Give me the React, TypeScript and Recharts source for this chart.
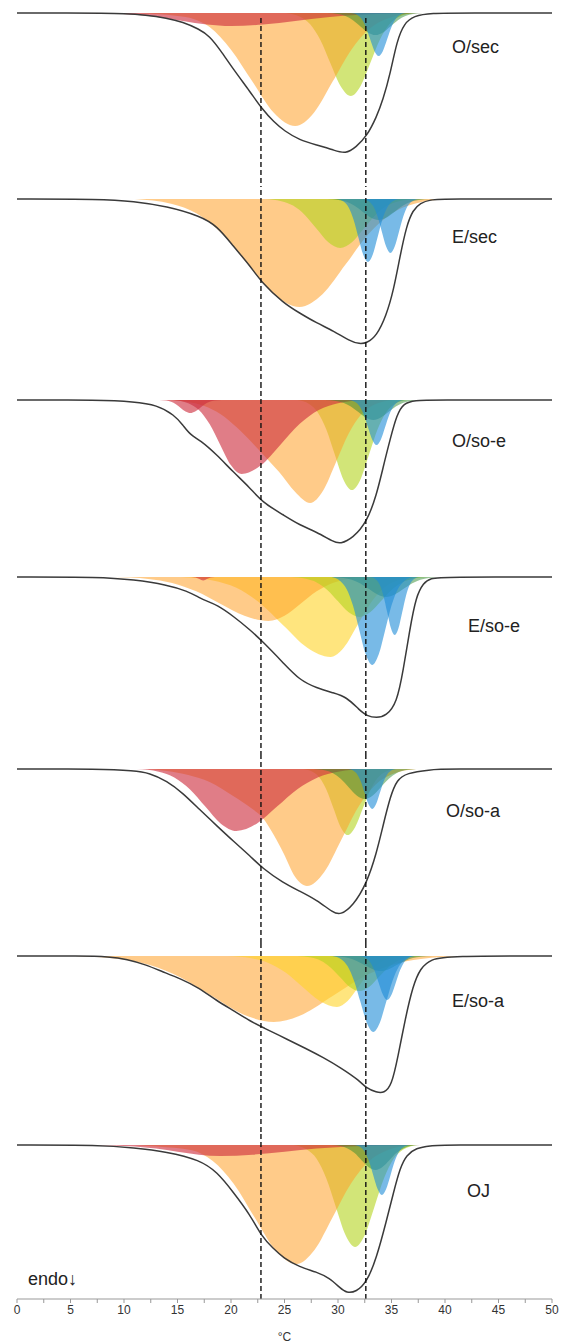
import { ComposedChart, Area, Line, XAxis, YAxis, ReferenceLine } from 'recharts';

type Pt = [number, number];

// temperature axis (°C) and the two dashed guides
const tempTicks = [0, 2.5, 5, 7.5, 10, 12.5, 15, 17.5, 20, 22.5, 25, 27.5, 30, 32.5, 35, 37.5, 40, 42.5, 45, 47.5, 50];
const guideTemps = [22.8, 32.6];

// ---- O/sec ----
const osecCurve: Pt[] = [[0, 0], [5, 0], [8, 0.3], [10, 0.6], [12, 2], [14, 5], [15.5, 9], [17, 16], [18, 23], [19, 37], [20.2, 56], [21.8, 79], [22.9, 96], [24, 109], [25, 118], [26.4, 127], [28, 132], [29.6, 137], [30.7, 141], [31.7, 134], [32.7, 123], [33.6, 104], [34.2, 87], [34.9, 60], [35.5, 28], [36.2, 10], [37.1, 3], [38.6, 0], [42, 0], [50, 0]];
const osecRose: Pt[] = [[5.6, 0], [8.75, 0.6], [11, 1.8], [13.25, 4.2], [15.5, 7.9], [17.75, 11.5], [20, 13], [23, 11.5], [26, 7.9], [29, 4.2], [32, 1.8], [35, 0.6], [38, 0]];
const osecOrange: Pt[] = [[11, 0], [13, 1], [15, 3], [16.5, 6], [18, 14], [20, 36.7], [22, 68.6], [24, 99.7], [26, 113], [27.75, 99.7], [29.5, 68.6], [31.25, 36.7], [33, 15.3], [34.75, 5], [37.2, 0]];
const osecLime: Pt[] = [[25.1, 0], [26.45, 3.7], [27.4, 11.2], [28.35, 27], [29.3, 50.4], [30.25, 73.2], [31.2, 83], [32.1, 73.2], [33, 50.4], [33.9, 27], [34.8, 11.2], [35.7, 3.7], [37, 0]];
const osecGreen: Pt[] = [[29, 0], [30, 1], [30.7, 3], [31.4, 7.2], [32.1, 13.4], [32.8, 19.4], [33.5, 22], [34.2, 19.4], [34.9, 13.4], [35.6, 7.2], [36.3, 3], [37, 1], [38, 0]];
const osecBlue: Pt[] = [[31.2, 0], [31.8, 1.9], [32.2, 5.8], [32.6, 14], [33, 26.1], [33.4, 37.9], [33.8, 43], [34.2, 37.9], [34.6, 26.1], [35, 14], [35.4, 5.8], [35.8, 1.9], [36.4, 0]];

// ---- E/sec ----
const esecCurve: Pt[] = [[0, 0], [7.8, 0], [10.9, 2.3], [14, 7.3], [17.1, 17], [18.7, 27], [20.2, 47], [21.8, 67], [22.9, 84], [24.9, 104], [26.4, 114], [28, 124], [29.6, 132], [31.1, 142], [32, 145], [32.7, 144], [33.6, 137], [34.5, 117], [35.2, 91], [35.8, 57], [36.4, 27], [37, 11], [37.7, 4], [38.6, 0.7], [40, 0], [50, 0]];
const esecOrange: Pt[] = [[11, 0], [14.4, 4.8], [16.8, 14.6], [19.2, 35.1], [21.6, 65.6], [24, 95.3], [26.4, 108], [28.55, 95.3], [30.7, 65.6], [32.85, 35.1], [35, 14.6], [37.15, 4.8], [40.2, 0]];
const esecLime: Pt[] = [[23.2, 0], [24.7, 2.2], [25.8, 6.6], [26.9, 15.9], [28, 29.7], [29.1, 43.2], [30.2, 49], [31.3, 43.2], [32.4, 29.7], [33.5, 15.9], [34.6, 6.6], [35.7, 2.2], [37.2, 0]];
const esecGreen: Pt[] = [[29, 0], [30.05, 0.9], [30.8, 2.8], [31.55, 6.8], [32.3, 12.7], [33.05, 18.5], [33.8, 21], [34.55, 18.5], [35.3, 12.7], [36.05, 6.8], [36.8, 2.8], [37.55, 0.9], [38.6, 0]];
const esecBlueA: Pt[] = [[29.9, 0], [30.55, 2.8], [31, 8.5], [31.45, 20.5], [31.9, 38.2], [32.35, 55.6], [32.8, 63], [33.25, 55.6], [33.7, 38.2], [34.15, 20.5], [34.6, 8.5], [35.05, 2.8], [35.7, 0]];
const esecBlueB: Pt[] = [[32.3, 0], [32.9, 2.4], [33.3, 7.3], [33.7, 17.6], [34.1, 32.8], [34.5, 47.6], [34.9, 54], [35.3, 47.6], [35.7, 32.8], [36.1, 17.6], [36.5, 7.3], [36.9, 2.4], [37.5, 0]];

// ---- O/so-e ----
const osoeCurve: Pt[] = [[0, 0], [7.8, 0], [10.9, 1.7], [13.1, 5], [14.7, 15], [15.5, 25], [16.2, 35], [17.1, 40], [18.7, 55], [20.2, 72], [21.8, 88], [22.9, 102], [24.9, 115], [26.4, 125], [28, 132], [29.6, 142], [30.2, 144], [31.4, 138], [32.7, 122], [33.6, 95], [34.2, 68], [34.9, 38], [35.5, 15], [36.1, 3], [37.3, 0.3], [38.5, 0], [50, 0]];
const osoeRoseS: Pt[] = [[13.3, 0], [13.95, 0.6], [14.4, 1.8], [14.85, 4.2], [15.3, 7.9], [15.75, 11.5], [16.2, 13], [16.65, 11.5], [17.1, 7.9], [17.55, 4.2], [18, 1.8], [18.45, 0.6], [19.1, 0]];
const osoeRoseB: Pt[] = [[14.6, 0], [16, 3.3], [17, 10], [18, 24.1], [19, 44.9], [20, 65.3], [21, 74], [22.8, 65.3], [24.6, 44.9], [26.4, 24.1], [28.2, 10], [30, 3.3], [32.5, 0]];
const osoeOrange: Pt[] = [[14, 0], [16, 2], [17.5, 6], [19, 14], [20.5, 27], [22, 43], [23.3, 58], [24.5, 72], [26, 92], [27.4, 103], [28.6, 90.8], [29.8, 62.5], [31, 33.5], [32.2, 13.9], [33.4, 4.5], [35.1, 0]];
const osoeLime: Pt[] = [[26.2, 0], [27.3, 4], [28.1, 12.2], [28.9, 29.3], [29.7, 54.6], [30.5, 79.4], [31.3, 90], [32.1, 79.4], [32.9, 54.6], [33.7, 29.3], [34.5, 12.2], [35.3, 4], [36.4, 0]];
const osoeGreen: Pt[] = [[28.8, 0], [29.8, 0.9], [30.5, 2.7], [31.2, 6.5], [31.9, 12.1], [32.6, 17.6], [33.3, 20], [34, 17.6], [34.7, 12.1], [35.4, 6.5], [36.1, 2.7], [36.8, 0.9], [37.8, 0]];
const osoeBlue: Pt[] = [[31, 0], [31.6, 2], [32, 6.1], [32.4, 14.6], [32.8, 27.3], [33.2, 39.7], [33.6, 45], [34, 39.7], [34.4, 27.3], [34.8, 14.6], [35.2, 6.1], [35.6, 2], [36.2, 0]];

// ---- E/so-e ----
const esoeCurve: Pt[] = [[0, 0], [7.8, 0], [10.9, 2.7], [14, 7.7], [15.9, 14], [17.1, 21], [17.7, 24], [18.7, 28], [20.2, 39], [21.8, 53], [22.9, 64], [24.9, 86], [26.4, 103], [28, 111], [29.6, 116], [30.8, 120], [32, 133], [32.7, 139], [33.6, 141], [34.5, 139], [35.5, 126], [36.1, 93], [36.7, 53], [37.3, 19], [38, 6], [38.6, 1], [40, 0], [50, 0]];
const esoeRose: Pt[] = [[16.3, 0], [16.7, 0.5], [17.05, 2.1], [17.4, 3.5], [17.75, 2.1], [18.1, 0.5], [18.5, 0]];
const esoeYellow: Pt[] = [[15.3, 0], [18.3, 3.5], [20.5, 10.8], [22.7, 26], [24.9, 48.6], [27.1, 70.6], [29.3, 80], [30.55, 70.6], [31.8, 48.6], [33.05, 26], [34.3, 10.8], [35.55, 3.5], [37.3, 0]];
const esoeOrange: Pt[] = [[9.1, 0], [12.25, 1.9], [14.5, 5.9], [16.75, 14.3], [19, 26.7], [21.25, 38.8], [23.5, 44], [25, 38.8], [26.5, 26.7], [28, 14.3], [29.5, 5.9], [31, 1.9], [33.1, 0]];
const esoeLime: Pt[] = [[25.6, 0], [27, 1.8], [28, 5.4], [29, 13], [30, 24.3], [31, 35.3], [32, 40], [33, 35.3], [34, 24.3], [35, 13], [36, 5.4], [37, 1.8], [38.4, 0]];
const esoeGreen: Pt[] = [[29.4, 0], [30.5, 0.9], [31.3, 2.7], [32.1, 6.5], [32.9, 12.1], [33.7, 17.6], [34.5, 20], [35.3, 17.6], [36.1, 12.1], [36.9, 6.5], [37.7, 2.7], [38.5, 0.9], [39.6, 0]];
const esoeBlueA: Pt[] = [[29.4, 0], [30.2, 3.9], [30.8, 11.9], [31.4, 28.6], [32, 53.4], [32.6, 77.6], [33.2, 88], [33.8, 77.6], [34.4, 53.4], [35, 28.6], [35.6, 11.9], [36.2, 3.9], [37, 0]];
const esoeBlueB: Pt[] = [[33.05, 0], [33.55, 2.6], [33.9, 7.8], [34.25, 18.9], [34.6, 35.2], [34.95, 51.2], [35.3, 58], [35.65, 51.2], [36, 35.2], [36.35, 18.9], [36.7, 7.8], [37.05, 2.6], [37.55, 0]];

// ---- O/so-a ----
const osoaCurve: Pt[] = [[0, 0], [7.8, 0], [10.9, 1.7], [12.4, 4], [14, 12], [15.5, 24], [17.1, 41], [18.7, 57], [20.2, 72], [21.8, 87], [22.9, 99], [24.9, 114], [26.4, 122], [28, 131], [29.6, 144], [30.2, 146], [31.4, 137], [32.7, 114], [33.6, 84], [34.2, 57], [34.9, 27], [35.5, 11], [36.4, 4], [38.6, 0.7], [40, 0], [50, 0]];
const osoaRose: Pt[] = [[11.2, 0], [13.25, 2.7], [14.7, 8.4], [16.15, 20.2], [17.6, 37.6], [19.05, 54.7], [20.5, 62], [22.4, 54.7], [24.3, 37.6], [26.2, 20.2], [28.1, 8.4], [30, 2.7], [32.7, 0]];
const osoaOrange: Pt[] = [[12, 0], [14, 2], [16, 6], [18, 13], [20.2, 27], [22, 40], [22.9, 48], [24, 66], [24.9, 84], [26, 108], [27.1, 117], [28.7, 103.2], [30.3, 71], [31.9, 38], [33.5, 15.8], [35.1, 5.1], [37.3, 0]];
const osoaLime: Pt[] = [[26.75, 0], [27.65, 2.9], [28.3, 8.9], [28.95, 21.5], [29.6, 40.1], [30.25, 58.2], [30.9, 66], [31.6, 58.2], [32.3, 40.1], [33, 21.5], [33.7, 8.9], [34.4, 2.9], [35.4, 0]];
const osoaGreen: Pt[] = [[27.7, 0], [28.75, 1.3], [29.5, 4.1], [30.25, 9.8], [31, 18.2], [31.75, 26.5], [32.5, 30], [33.25, 26.5], [34, 18.2], [34.75, 9.8], [35.5, 4.1], [36.25, 1.3], [37.3, 0]];
const osoaBlue: Pt[] = [[30.95, 0], [31.45, 1.8], [31.8, 5.4], [32.15, 13], [32.5, 24.3], [32.85, 35.3], [33.2, 40], [33.55, 35.3], [33.9, 24.3], [34.25, 13], [34.6, 5.4], [34.95, 1.8], [35.45, 0]];

// ---- E/so-a ----
const esoaCurve: Pt[] = [[0, 0], [6, 0], [8.6, 0.7], [10.3, 3.2], [12, 8.6], [13.6, 15.7], [15.3, 22.9], [17, 31.8], [18.6, 44.3], [20.3, 55], [22, 66.4], [22.9, 71], [25.3, 83.6], [27, 92.5], [28.6, 101.4], [30.3, 112], [32, 124.6], [32.6, 131.8], [33.6, 136.4], [34.3, 137], [35, 130], [35.6, 101], [36.3, 62], [37, 30], [37.7, 12], [38.7, 3.2], [40.3, 0], [50, 0]];
const esoaOrange: Pt[] = [[5.4, 0], [9.5, 2.9], [12.4, 8.9], [15.3, 21.5], [18.2, 40.1], [21.1, 58.2], [24, 66], [26.75, 58.2], [29.5, 40.1], [32.25, 21.5], [35, 8.9], [37.75, 2.9], [41.6, 0]];
const esoaYellow: Pt[] = [[19.7, 0], [21.9, 2.2], [23.5, 6.9], [25.1, 16.6], [26.7, 31], [28.3, 45], [29.9, 51], [30.9, 45], [31.9, 31], [32.9, 16.6], [33.9, 6.9], [34.9, 2.2], [36.3, 0]];
const esoaLime: Pt[] = [[26.2, 0], [27.5, 1.5], [28.4, 4.7], [29.3, 11.4], [30.2, 21.2], [31.1, 30.9], [32, 35], [32.9, 30.9], [33.8, 21.2], [34.7, 11.4], [35.6, 4.7], [36.5, 1.5], [37.8, 0]];
const esoaGreen: Pt[] = [[29.2, 0], [30.25, 0.7], [31, 2], [31.75, 4.9], [32.5, 9.1], [33.25, 13.2], [34, 15], [34.75, 13.2], [35.5, 9.1], [36.25, 4.9], [37, 2], [37.75, 0.7], [38.8, 0]];
const esoaBlueA: Pt[] = [[29.5, 0], [30.3, 3.3], [30.9, 10.3], [31.5, 24.7], [32.1, 46.1], [32.7, 67], [33.3, 76], [33.9, 67], [34.5, 46.1], [35.1, 24.7], [35.7, 10.3], [36.3, 3.3], [37.1, 0]];
const esoaBlueB: Pt[] = [[32, 0], [32.6, 1.9], [33, 5.9], [33.4, 14.3], [33.8, 26.7], [34.2, 38.8], [34.6, 44], [35, 38.8], [35.4, 26.7], [35.8, 14.3], [36.2, 5.9], [36.6, 1.9], [37.2, 0]];

// ---- OJ ----
const ojCurve: Pt[] = [[0, 0], [7.8, 0], [10.9, 2.7], [14, 6.7], [17.1, 15], [18.7, 27], [20.2, 47], [21.8, 70], [22.9, 92], [23.9, 103], [24.9, 113], [26.4, 122], [28, 127], [29.2, 133], [30.2, 143], [30.8, 148], [31.7, 147], [32.7, 137], [33.6, 113], [34.5, 77], [35.2, 47], [35.8, 23], [36.4, 10], [37.3, 3], [38.6, 0.7], [40, 0], [50, 0]];
const ojRose: Pt[] = [[6.2, 0], [9, 0.5], [11, 1.5], [13, 3.6], [15, 6.7], [17, 9.7], [19, 11], [22, 9.7], [25, 6.7], [28, 3.6], [31, 1.5], [34, 0.5], [38, 0]];
const ojOrange: Pt[] = [[11, 0], [13, 1.5], [16.35, 5.2], [18.3, 16.1], [20.25, 38.7], [22.2, 72.2], [24.15, 105], [26.1, 119], [27.8, 105], [29.5, 72.2], [31.2, 38.7], [32.9, 16.1], [34.6, 5.2], [37, 0]];
const ojLime: Pt[] = [[25.8, 0], [27.1, 4.5], [28, 13.8], [28.9, 33.2], [29.8, 61.9], [30.7, 90], [31.6, 102], [32.5, 90], [33.4, 61.9], [34.3, 33.2], [35.2, 13.8], [36.1, 4.5], [37.4, 0]];
const ojGreen: Pt[] = [[29.35, 0], [30.25, 1.1], [30.9, 3.4], [31.55, 8.1], [32.2, 15.2], [32.85, 22], [33.5, 25], [34.15, 22], [34.8, 15.2], [35.45, 8.1], [36.1, 3.4], [36.75, 1.1], [37.65, 0]];
const ojBlue: Pt[] = [[31.5, 0], [32.1, 2.2], [32.5, 6.8], [32.9, 16.3], [33.3, 30.4], [33.7, 44.1], [34.1, 50], [34.5, 44.1], [34.9, 30.4], [35.3, 16.3], [35.7, 6.8], [36.1, 2.2], [36.7, 0]];

const FILL: Record<string, [string, number]> = {
  rose: ['rgb(205,45,62)', 0.62],
  orange: ['rgb(255,160,40)', 0.55],
  yellow: ['rgb(255,212,40)', 0.6],
  lime: ['rgb(180,212,30)', 0.6],
  green: ['rgb(50,140,50)', 0.5],
  blue: ['rgb(30,140,215)', 0.6],
};

// peaks listed in drawing order (later = on top)
const panels: { label: string; curve: Pt[]; peaks: [Pt[], string][] }[] = [
  { label: 'O/sec', curve: osecCurve, peaks: [[osecLime, 'lime'], [osecOrange, 'orange'], [osecRose, 'rose'], [osecGreen, 'green'], [osecBlue, 'blue']] },
  { label: 'E/sec', curve: esecCurve, peaks: [[esecOrange, 'orange'], [esecLime, 'lime'], [esecGreen, 'green'], [esecBlueA, 'blue'], [esecBlueB, 'blue']] },
  { label: 'O/so-e', curve: osoeCurve, peaks: [[osoeLime, 'lime'], [osoeOrange, 'orange'], [osoeRoseB, 'rose'], [osoeRoseS, 'rose'], [osoeGreen, 'green'], [osoeBlue, 'blue']] },
  { label: 'E/so-e', curve: esoeCurve, peaks: [[esoeYellow, 'yellow'], [esoeOrange, 'orange'], [esoeRose, 'rose'], [esoeLime, 'lime'], [esoeGreen, 'green'], [esoeBlueA, 'blue'], [esoeBlueB, 'blue']] },
  { label: 'O/so-a', curve: osoaCurve, peaks: [[osoaLime, 'lime'], [osoaOrange, 'orange'], [osoaRose, 'rose'], [osoaGreen, 'green'], [osoaBlue, 'blue']] },
  { label: 'E/so-a', curve: esoaCurve, peaks: [[esoaOrange, 'orange'], [esoaYellow, 'yellow'], [esoaLime, 'lime'], [esoaGreen, 'green'], [esoaBlueA, 'blue'], [esoaBlueB, 'blue']] },
  { label: 'OJ', curve: ojCurve, peaks: [[ojLime, 'lime'], [ojOrange, 'orange'], [ojRose, 'rose'], [ojGreen, 'green'], [ojBlue, 'blue']] },
];

// page layout (px)
const W = 564;
const BASE = 13; // baseline offset from top of each strip
const stripTops = [0, 186, 387, 564, 756, 943, 1132];
const stripHeights = [186, 201, 177, 192, 187, 189, 212];
const labelPos = [[452, 37], [452, 41], [452, 44], [468, 52], [446, 45], [452, 48], [467, 49]];
const AXIS_H = 45;
const FONT = '"Liberation Sans", Arial, sans-serif';

function buildRows(curve: Pt[], peaks: [Pt[], string][]) {
  const rows = new Map<number, Record<string, number>>();
  const put = (key: string, pts: Pt[]) =>
    pts.forEach(([t, v]) => {
      const row = rows.get(t) ?? { t };
      row[key] = v;
      rows.set(t, row);
    });
  put('curve', curve);
  peaks.forEach(([pts], i) => put(`p${i}`, pts));
  return [...rows.values()].sort((a, b) => a.t - b.t);
}

function Strip({ idx }: { idx: number }) {
  const p = panels[idx];
  const last = idx === panels.length - 1;
  const h = stripHeights[idx];
  const plotH = h - (last ? AXIS_H : 0);
  const rows = buildRows(p.curve, p.peaks);
  return (
    <ComposedChart width={W} height={h} data={rows} margin={{ top: 0, right: 12, bottom: 0, left: 17 }}>
      <XAxis
        type="number"
        dataKey="t"
        domain={[0, 50]}
        allowDataOverflow
        hide={!last}
        ticks={tempTicks}
        interval={0}
        tickFormatter={(v: number) => (v % 5 === 0 ? String(v) : '')}
        stroke="#999"
        tickSize={4}
        tick={{ fontSize: 12, fill: '#333', fontFamily: FONT }}
        height={AXIS_H}
        label={{ value: '°C', position: 'insideBottom', offset: 3, fontSize: 12, fill: '#333', fontFamily: FONT }}
      />
      <YAxis type="number" domain={[-BASE, plotH - BASE]} reversed hide allowDataOverflow />
      {p.peaks.map(([, c], i) => (
        <Area
          key={i}
          dataKey={`p${i}`}
          type="monotone"
          connectNulls
          baseValue={0}
          stroke="none"
          fill={FILL[c][0]}
          fillOpacity={FILL[c][1]}
          dot={false}
          activeDot={false}
          isAnimationActive={false}
        />
      ))}
      <Line dataKey="curve" type="basis" connectNulls stroke="#3a3a3a" strokeWidth={1.5} dot={false} activeDot={false} isAnimationActive={false} />
      {guideTemps.map((g) =>
        idx === 0 ? (
          <ReferenceLine key={g} segment={[{ x: g, y: 5 }, { x: g, y: plotH - BASE }]} stroke="#111" strokeWidth={1.4} strokeDasharray="5 3" />
        ) : (
          <ReferenceLine key={g} x={g} stroke="#111" strokeWidth={1.4} strokeDasharray="5 3" />
        )
      )}
    </ComposedChart>
  );
}

export default function App() {
  return (
    <div style={{ position: 'absolute', left: 0, top: 0, width: W, height: 1344, background: '#fff', fontFamily: FONT }}>
      {panels.map((p, i) => (
        <div key={p.label} style={{ position: 'absolute', left: 0, top: stripTops[i], width: W, height: stripHeights[i] }}>
          <Strip idx={i} />
          <div style={{ position: 'absolute', left: labelPos[i][0], top: labelPos[i][1], fontSize: 18, color: '#222', whiteSpace: 'nowrap' }}>
            {p.label}
          </div>
        </div>
      ))}
      <div style={{ position: 'absolute', left: 28, top: 1269, fontSize: 18, color: '#222' }}>endo↓</div>
    </div>
  );
}
